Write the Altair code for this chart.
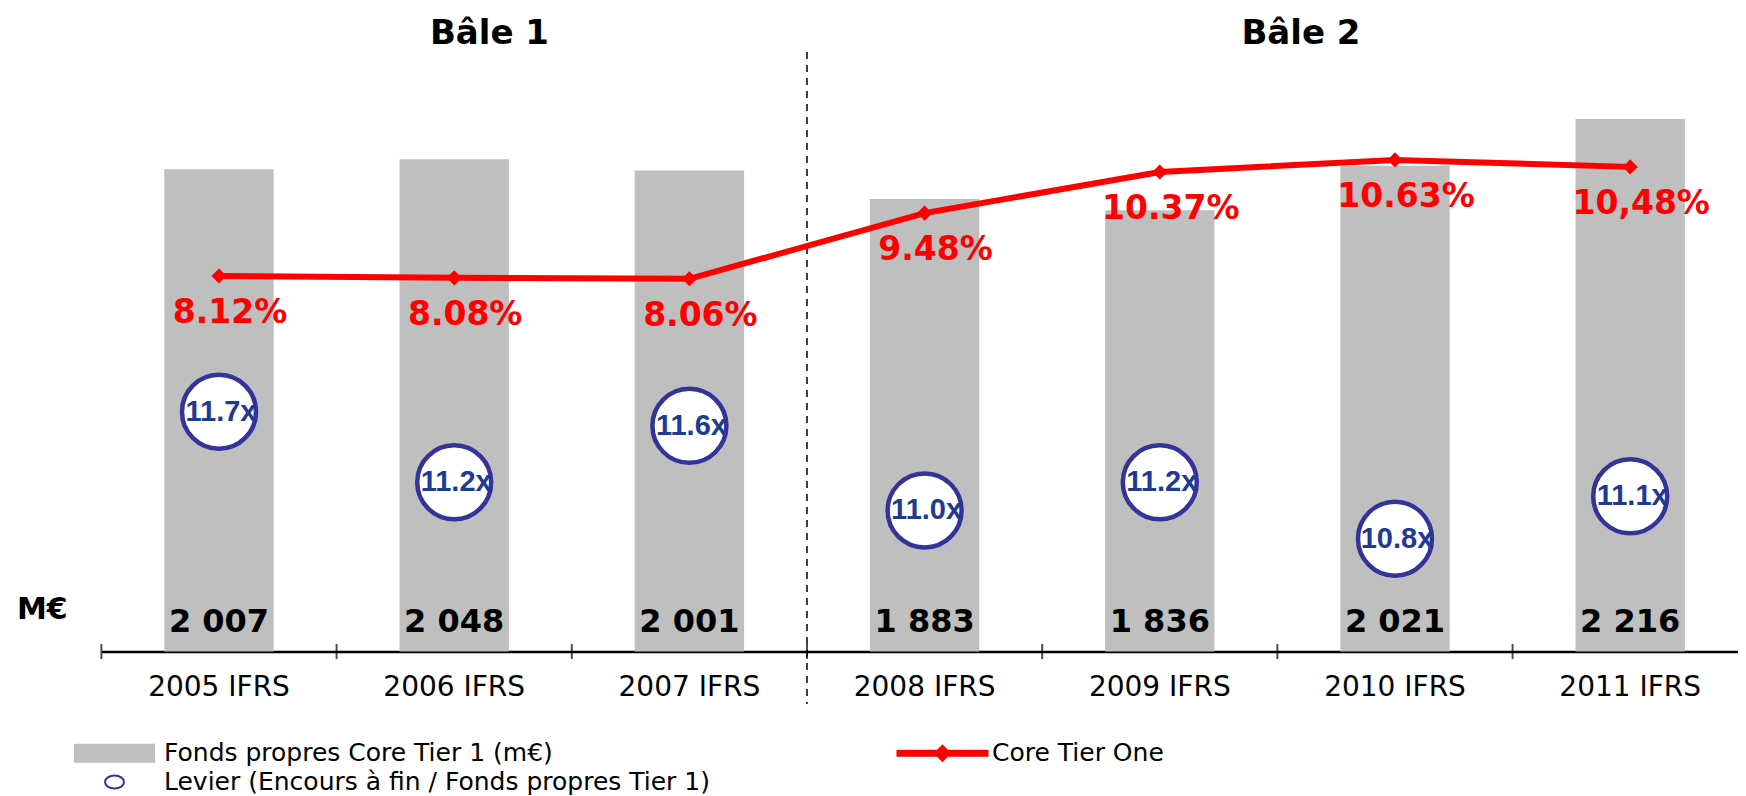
import altair as alt
import pandas as pd

# ---- data ----
cats = ["2005 IFRS", "2006 IFRS", "2007 IFRS", "2008 IFRS", "2009 IFRS", "2010 IFRS", "2011 IFRS"]
fonds = [2007, 2048, 2001, 1883, 1836, 2021, 2216]
fonds_labels = ["2 007", "2 048", "2 001", "1 883", "1 836", "2 021", "2 216"]
ct1 = [8.12, 8.08, 8.06, 9.48, 10.37, 10.63, 10.48]
ct1_labels = ["8.12%", "8.08%", "8.06%", "9.48%", "10.37%", "10.63%", "10,48%"]
levier = [11.7, 11.2, 11.6, 11.0, 11.2, 10.8, 11.1]
levier_labels = ["11.7x", "11.2x", "11.6x", "11.0x", "11.2x", "10.8x", "11.1x"]
legend_names = ["Fonds propres Core Tier 1 (m€)", "Core Tier One",
                "Levier (Encours à fin / Fonds propres Tier 1)"]
period_titles = ["Bâle 1", "Bâle 2"]
unit_label = "M€"

df = pd.DataFrame({
    "cat": cats, "fonds": fonds, "fonds_lbl": fonds_labels,
    "ct1": ct1, "ct1_lbl": ct1_labels, "lev": levier, "lev_lbl": levier_labels,
})

W = 1636.6
H = 560
STEP = 235.2
FONT = "DejaVu Sans"

x_scale = alt.Scale(domain=cats, range=[0, STEP * 7], paddingInner=0, paddingOuter=0)
x_axis = alt.Axis(title=None, labelAngle=0, ticks=False, tickSize=0, domainColor="black",
                  domainWidth=2.5, labelFont=FONT, labelFontSize=28, labelColor="black",
                  labelPadding=36, labelBaseline="middle", grid=False, labelOverlap=False,
                  labelLimit=0)

def X(**kw):
    return alt.X("cat:N", scale=x_scale, axis=x_axis, sort=cats, **kw)

bar_scale = alt.Scale(domain=[0, 2330], nice=False, zero=True)
pct_scale = alt.Scale(domain=[0, 12.11], nice=False, zero=True)
lev_scale = alt.Scale(domain=[10, 13.97], nice=False, zero=False)

base = alt.Chart(df)

bars = base.mark_bar(color="#BFBFBF", width=alt.RelativeBandSize(0.465)).encode(
    x=X(), y=alt.Y("fonds:Q", scale=bar_scale, axis=None))

ticks = base.mark_tick(orient="vertical", size=15, thickness=2, color="black").encode(
    x=X(bandPosition=0), y=alt.datum(0, scale=bar_scale, axis=None))

sep = alt.Chart(pd.DataFrame({"cat": [cats[3]]})).mark_rule(
    color="black", strokeWidth=1.5, strokeDash=[7, 6]).encode(
    x=X(bandPosition=0), y=alt.value(-39.5), y2=alt.value(612.5))

line = base.mark_line(color="#FF0000", strokeWidth=6).encode(
    x=X(), y=alt.Y("ct1:Q", scale=pct_scale, axis=None))
diamonds = base.mark_point(shape="diamond", filled=True, color="#FF0000", size=230, opacity=1).encode(
    x=X(), y=alt.Y("ct1:Q", scale=pct_scale, axis=None))
pct_text = base.mark_text(font=FONT, fontWeight="bold", fontSize=33, color="#FF0000",
                          align="center", baseline="middle", dx=11, dy=37).encode(
    x=X(), y=alt.Y("ct1:Q", scale=pct_scale, axis=None), text="ct1_lbl:N")

circles = base.mark_point(shape="circle", filled=False, fill="white", stroke="#333399",
                          strokeWidth=4.5, size=5476, opacity=1).encode(
    x=X(), y=alt.Y("lev:Q", scale=lev_scale, axis=None))
lev_text = base.mark_text(font="Liberation Sans", fontWeight="bold", fontSize=29,
                          color="#1F3A93", align="center", baseline="middle", dx=2).encode(
    x=X(), y=alt.Y("lev:Q", scale=lev_scale, axis=None), text="lev_lbl:N")

bar_text = base.mark_text(font=FONT, fontWeight="bold", fontSize=32, color="black",
                          align="center", baseline="middle", dy=-30).encode(
    x=X(), y=alt.datum(0, scale=bar_scale, axis=None), text="fonds_lbl:N")

unit = alt.Chart(pd.DataFrame({"t": [unit_label]})).mark_text(
    font=FONT, fontWeight="bold", fontSize=30, color="black", align="left", baseline="middle").encode(
    x=alt.value(-84.4), y=alt.value(H - 42), text="t:N")

title1 = alt.Chart(pd.DataFrame({"cat": [cats[1]], "t": [period_titles[0]]})).mark_text(
    font=FONT, fontWeight="bold", fontSize=34, color="black", align="center", baseline="middle").encode(
    x=X(bandPosition=0.65), y=alt.value(-58), text="t:N")
title2 = alt.Chart(pd.DataFrame({"cat": [cats[5]], "t": [period_titles[1]]})).mark_text(
    font=FONT, fontWeight="bold", fontSize=34, color="black", align="center", baseline="middle").encode(
    x=X(bandPosition=0.1), y=alt.value(-58), text="t:N")

# legend symbol paths (unit = 10 px with symbolSize 400)
rect_path = "M-3.96,-0.85H3.96V0.85H-3.96Z"
line_path = "M-4.5,-0.25H4.5V0.25H-4.5Z M0,-0.75L0.75,0L0,0.75L-0.75,0Z"
circ_path = "M-0.95,0A0.95,0.65 0 1,0 0.95,0A0.95,0.65 0 1,0 -0.95,0Z"

legend = alt.Legend(orient="none", legendX=-30.4, legendY=649, columns=2, direction="horizontal",
                    columnPadding=183, rowPadding=3, symbolSize=400, symbolStrokeWidth=2,
                    symbolOffset=31, labelOffset=37, labelFont=FONT, labelFontSize=25,
                    labelColor="black", labelLimit=0, title=None, padding=0)
legend_layer = alt.Chart(pd.DataFrame({"serie": legend_names})).transform_filter("false").mark_point(
    filled=True, opacity=1, strokeWidth=2).encode(
    shape=alt.Shape("serie:N", scale=alt.Scale(domain=legend_names, range=[rect_path, line_path, circ_path]),
                    legend=legend, sort=legend_names),
    fill=alt.Fill("serie:N", scale=alt.Scale(domain=legend_names, range=["#BFBFBF", "#FF0000", "white"]),
                  legend=legend, sort=legend_names),
    stroke=alt.Stroke("serie:N", scale=alt.Scale(domain=legend_names, range=["#BFBFBF", "#FF0000", "#333399"]),
                      legend=legend, sort=legend_names),
)

chart = alt.layer(
    bars, sep, line, diamonds, pct_text, circles, lev_text, bar_text, ticks,
    unit, title1, title2, legend_layer
).resolve_scale(y="independent").properties(
    width=W, height=H,
    autosize=alt.AutoSizeParams(type="none"),
    padding={"left": 93.4, "top": 83.5, "right": 0, "bottom": 146.5},
).configure_view(stroke=None)

chart.save("out.html", embed_options={"renderer": "svg", "actions": False})
